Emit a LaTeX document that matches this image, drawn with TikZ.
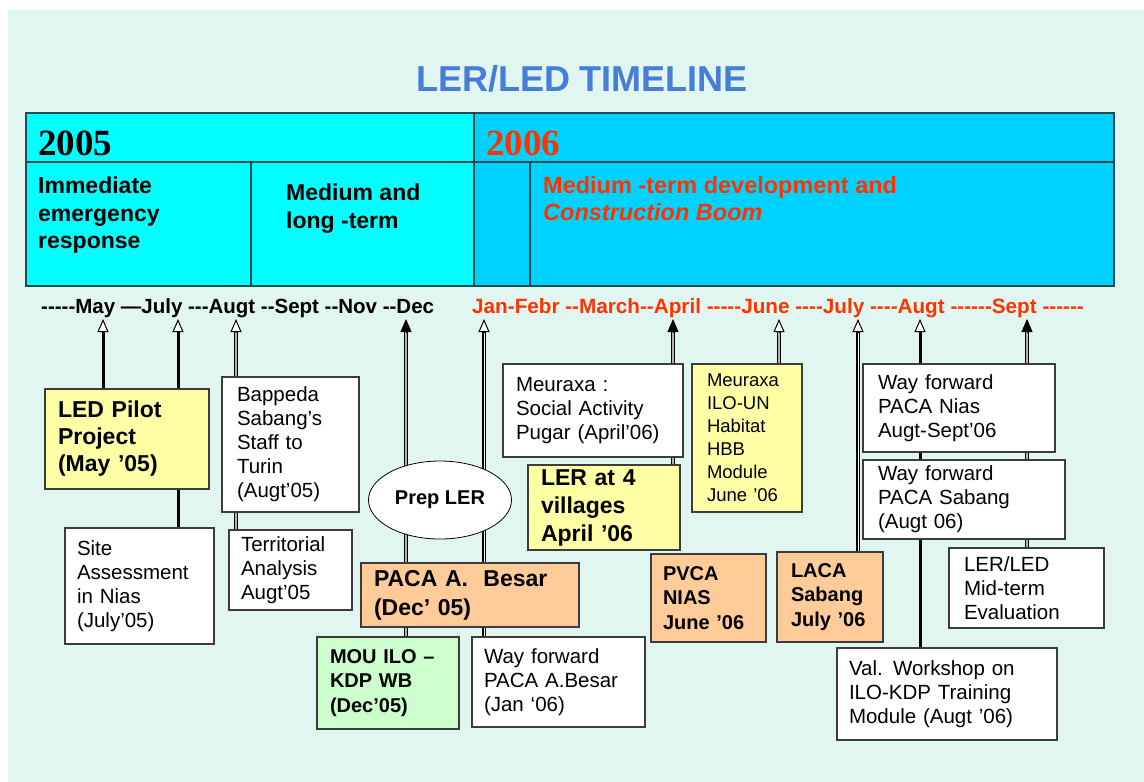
\documentclass[tikz,border=0pt]{standalone}
\usepackage{fontspec}
\setmainfont{Liberation Sans}[Ligatures=TeXOff]
\newfontfamily\yearfont{Liberation Serif}[Ligatures=TeXOff]
\usetikzlibrary{arrows.meta,shapes.geometric}

\definecolor{mint}{RGB}{225,246,241}
\definecolor{cyanA}{RGB}{0,255,255}
\definecolor{skyB}{RGB}{0,210,255}
\definecolor{redT}{RGB}{255,51,0}
\definecolor{titleblue}{RGB}{70,125,215}
\definecolor{ylw}{RGB}{255,255,166}
\definecolor{orng}{RGB}{255,204,153}
\definecolor{grn}{RGB}{204,255,204}
\definecolor{edge}{RGB}{60,60,60}
\definecolor{tabline}{RGB}{35,75,80}

\pgfdeclarelayer{back}
\pgfsetlayers{back,main}

\begin{document}
\begin{tikzpicture}[
		x=1pt, y=-1pt,
		cell/.style={rectangle, draw=tabline, line width=1.2pt, inner sep=0pt},
		hdr/.style={anchor=north west, inner sep=0pt, align=left, font={\bfseries\fontsize{23}{27.5}\selectfont}},
		evbox/.style={rectangle, draw=edge, line width=1.1pt, fill=white, align=left, inner xsep=12pt},
		evtext/.style={font={\fontsize{20.5}{24}\selectfont}},
		evbold/.style={font={\bfseries\fontsize{20}{24.5}\selectfont}},
		thk/.style={draw=black, line width=3pt},
		thkd/.style={draw=black, double=white, line width=1.6pt, double distance=0.8pt},
		dbl/.style={draw=black, double=gray!60, line width=0.8pt, double distance=1.6pt},
		tipO/.style={-{Triangle[length=13pt, width=11pt, fill=white]}, line width=1pt},
		tipF/.style={-{Triangle[length=13pt, width=11pt]}, line width=1pt}
	]
  \useasboundingbox (0,0) rectangle (1144,782);
  \begin{pgfonlayer}{back}
    \fill[white] (0,0) rectangle (1144,782);
    \fill[mint] (8,10) rectangle (1144,782);
  \end{pgfonlayer}

  % title and header table
  \node (title) [anchor=base, text=titleblue, font={\bfseries\fontsize{36}{40}\selectfont}] at (582,91) {LER/LED TIMELINE};
  \node (c05) [cell, fill=cyanA, minimum width=448pt, minimum height=49pt] at (250,137.5) {};
  \node (c06) [cell, fill=skyB, minimum width=640pt, minimum height=49pt] at (794,137.5) {};
  \node (cimm) [cell, fill=cyanA, minimum width=225pt, minimum height=124pt] at (138.5,224) {};
  \node (cmed) [cell, fill=cyanA, minimum width=223pt, minimum height=124pt] at (362.5,224) {};
  \node (cgap) [cell, fill=skyB, minimum width=56pt, minimum height=124pt] at (502,224) {};
  \node (cboom) [cell, fill=skyB, minimum width=584pt, minimum height=124pt] at (822,224) {};
  \node (y05) [anchor=base west, inner sep=0pt, font={\yearfont\bfseries\fontsize{37}{40}\selectfont}] at (38,155) {2005};
  \node (y06) [anchor=base west, inner sep=0pt, text=redT, font={\yearfont\bfseries\fontsize{37}{40}\selectfont}] at (486,155) {2006};
  \node (timm) [hdr] at (38,177) {Immediate\\emergency\\response};
  \node (tmed) [hdr] at (286,184) {Medium and\\long -term};
  \node (tboom) [hdr, text=redT, font={\bfseries\fontsize{23.5}{27}\selectfont}] at (543,176) {Medium -term development and\\\textit{Construction Boom}};

  % months
  \node (m05) [anchor=base west, inner sep=0pt, font={\bfseries\fontsize{20.5}{22}\selectfont}] at (41,313) {-----May —July ---Augt --Sept --Nov --Dec};
  \node (m06) [anchor=base west, inner sep=0pt, text=redT, font={\bfseries\fontsize{20.7}{22}\selectfont}] at (472,313) {Jan-Febr --March--April -----June ----July ----Augt ------Sept ------};
  \coordinate (aMay) at (103,319);
  \coordinate (aJul) at (178,319);
  \coordinate (aAug) at (236,319);
  \coordinate (aDec) at (406,319);
  \coordinate (aJan) at (484,319);
  \coordinate (aApr) at (673,319);
  \coordinate (aJun) at (779,319);
  \coordinate (aJly) at (858,319);
  \coordinate (aAgt) at (920,319);
  \coordinate (aSep) at (1027,319);

  % 2005 events
  \node (pilot) [evbox, fill=ylw, minimum width=164pt, minimum height=100pt, text width=138pt, font={\bfseries\fontsize{23}{27}\selectfont}] at (127,439) {LED Pilot\\Project\\(May ’05)};
  \node (site) [evbox, evtext, minimum width=149pt, minimum height=116pt, text width=125pt] at (139.5,586) {Site\\Assessment\\in Nias\\(July’05)};
  \node (bappeda) [evbox, evtext, minimum width=137pt, minimum height=135pt, text width=107pt, inner xsep=15pt] at (290.5,444.5) {Bappeda\\Sabang’s\\Staff to\\Turin\\(Augt’05)};
  \node (territ) [evbox, evtext, minimum width=123pt, minimum height=80pt, text width=99pt] at (290.5,570) {Territorial\\Analysis\\Augt’05};
  \node (prep) [ellipse, draw=black, line width=0.8pt, fill=white, minimum width=143pt, minimum height=78pt, inner sep=0pt, font={\bfseries\fontsize{20}{22}\selectfont}] at (440,500) {Prep LER};
  \node (pacab) [evbox, fill=orng, minimum width=218pt, minimum height=64pt, text width=192pt, inner xsep=13pt, font={\bfseries\fontsize{23}{29}\selectfont}] at (470,595) {PACA A.\ \ Besar\\(Dec’ 05)};
  \node (mou) [evbox, evbold, fill=grn, minimum width=142pt, minimum height=92pt, text width=116pt, inner xsep=13pt] at (388,683) {MOU ILO –\\KDP WB\\(Dec’05)};
  \node (wfbesar) [evbox, evtext, minimum width=173pt, minimum height=90pt, text width=149pt] at (558.5,682) {Way forward\\PACA A.Besar\\(Jan ‘06)};

  % 2006 events
  \node (meusoc) [evbox, evtext, minimum width=180pt, minimum height=93pt, text width=154pt, inner xsep=13pt] at (593,410.5) {Meuraxa :\\Social Activity\\Pugar (April’06)};
  \node (ler4) [evbox, fill=ylw, minimum width=152pt, minimum height=85pt, text width=126pt, inner xsep=13pt, font={\bfseries\fontsize{23}{28}\selectfont}] at (604,507.5) {LER at 4\\villages\\April ’06};
  \node (meuilo) [evbox, fill=ylw, minimum width=110pt, minimum height=148pt, text width=80pt, inner xsep=15pt, font={\fontsize{18.5}{23}\selectfont}] at (747,438) {Meuraxa\\ILO-UN\\Habitat\\HBB\\Module\\June ’06};
  \node (pvca) [evbox, evbold, fill=orng, minimum width=115pt, minimum height=88pt, text width=91pt] at (708.5,598) {PVCA\\NIAS\\June ’06};
  \node (laca) [evbox, evbold, fill=orng, minimum width=106pt, minimum height=90pt, text width=78pt, inner xsep=14pt] at (830,597) {LACA\\Sabang\\July ’06};
  \node (wfnias) [evbox, evtext, minimum width=192pt, minimum height=88pt, text width=162pt, inner xsep=15pt] at (959,408) {Way forward\\PACA Nias\\Augt-Sept’06};
  \node (wfsabang) [evbox, evtext, minimum width=202pt, minimum height=79pt, text width=172pt, inner xsep=15pt] at (964,499.5) {Way forward\\PACA Sabang\\(Augt 06)};
  \node (midterm) [evbox, evtext, minimum width=155pt, minimum height=80pt, text width=125pt, inner xsep=15pt] at (1026.5,588) {LER/LED\\Mid-term\\Evaluation};
  \node (valws) [evbox, evtext, minimum width=220pt, minimum height=92pt, text width=196pt] at (947,694) {Val. Workshop on\\ILO-KDP Training\\Module (Augt ’06)};

  % arrows up to the months
  \begin{pgfonlayer}{back}
    \foreach \from/\to/\shaft/\tip in {pilot/aMay/thk/tipO, site/aJul/thk/tipO, territ/aAug/dbl/tipO,
        mou/aDec/dbl/tipF, wfbesar/aJan/thkd/tipO, ler4/aApr/dbl/tipF, meuilo/aJun/dbl/tipO,
        laca/aJly/thkd/tipO, valws/aAgt/thk/tipO, midterm/aSep/dbl/tipF} {
      \draw[\shaft, shorten >=11pt] (\from.north -| \to) -- (\to);
      \draw[\tip] ([yshift=-14pt]\to) -- (\to);
    }
  \end{pgfonlayer}
\end{tikzpicture}
\end{document}
